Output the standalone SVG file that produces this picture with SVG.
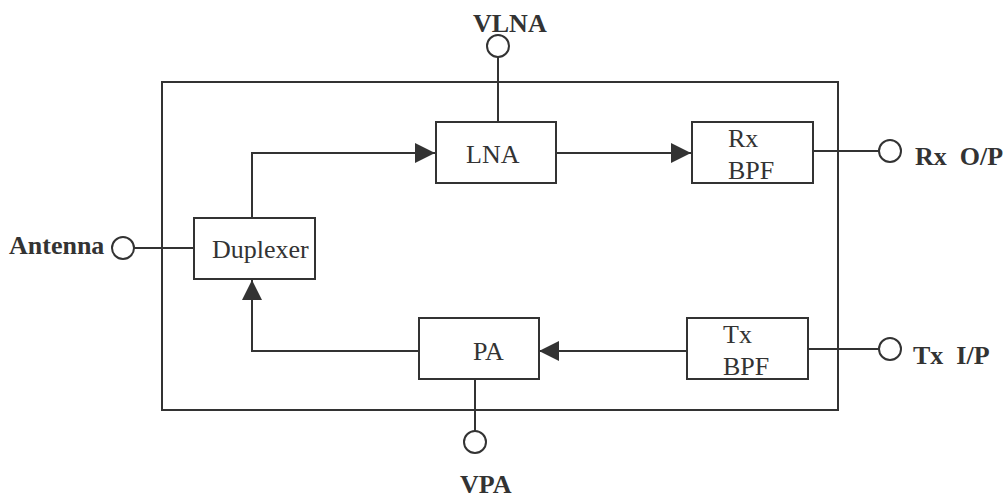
<svg xmlns="http://www.w3.org/2000/svg" width="1007" height="500" viewBox="0 0 1007 500">
  <style>
    .box { fill: #ffffff; stroke: #333333; stroke-width: 2; }
    .wire { fill: none; stroke: #333333; stroke-width: 2; }
    .pin { fill: #ffffff; stroke: #333333; stroke-width: 2; }
    .lbl { font-family: "Liberation Serif", "Times New Roman", "DejaVu Serif", serif; font-size: 26px; fill: #333333; }
    .pinlbl { font-family: "Liberation Serif", "Times New Roman", "DejaVu Serif", serif; font-size: 26px; font-weight: bold; fill: #333333; white-space: pre; }
  </style>
  <defs>
    <marker id="arrow" viewBox="0 0 20 20" refX="20" refY="10" markerWidth="20" markerHeight="20" markerUnits="userSpaceOnUse" orient="auto">
      <path d="M0,0 L20,10 L0,20 Z" fill="#333333"/>
    </marker>
  </defs>

  <!-- module enclosure -->
  <rect id="module" class="box" x="162" y="82" width="676" height="328"/>

  <!-- signal paths -->
  <g id="connectors">
    <path class="wire" d="M252,218 V153 H435" marker-end="url(#arrow)"/>
    <path class="wire" d="M556,153 H691" marker-end="url(#arrow)"/>
    <path class="wire" d="M687,351 H539" marker-end="url(#arrow)"/>
    <path class="wire" d="M419,351 H252 V280" marker-end="url(#arrow)"/>
    <path class="wire" d="M134,248 H194"/>
    <path class="wire" d="M498,57 V122"/>
    <path class="wire" d="M475,379 V431"/>
    <path class="wire" d="M813,151 H879"/>
    <path class="wire" d="M808,349 H879"/>
  </g>

  <g id="duplexer">
    <rect class="box" x="194" y="218" width="121" height="61"/>
    <text class="lbl" x="212" y="258">Duplexer</text>
  </g>

  <g id="lna">
    <rect class="box" x="436" y="122" width="120" height="61"/>
    <text class="lbl" x="466" y="163">LNA</text>
  </g>

  <g id="rx-bpf">
    <rect class="box" x="692" y="122" width="121" height="61"/>
    <text class="lbl" x="728" y="147">Rx</text>
    <text class="lbl" x="728" y="179">BPF</text>
  </g>

  <g id="pa">
    <rect class="box" x="419" y="318" width="120" height="61"/>
    <text class="lbl" x="473" y="360">PA</text>
  </g>

  <g id="tx-bpf">
    <rect class="box" x="687" y="318" width="121" height="61"/>
    <text class="lbl" x="723" y="343">Tx</text>
    <text class="lbl" x="723" y="375">BPF</text>
  </g>

  <g id="antenna">
    <circle class="pin" cx="123" cy="248" r="11"/>
    <text class="pinlbl" x="9" y="254">Antenna</text>
  </g>

  <g id="vlna">
    <circle class="pin" cx="498" cy="46" r="11"/>
    <text class="pinlbl" x="473" y="32">VLNA</text>
  </g>

  <g id="vpa">
    <circle class="pin" cx="475" cy="442" r="11"/>
    <text class="pinlbl" x="460" y="493">VPA</text>
  </g>

  <g id="rx-out">
    <circle class="pin" cx="890" cy="151" r="11"/>
    <text class="pinlbl" x="915" y="165">Rx  O/P</text>
  </g>

  <g id="tx-in">
    <circle class="pin" cx="890" cy="349" r="11"/>
    <text class="pinlbl" x="913" y="364">Tx  I/P</text>
  </g>
</svg>
